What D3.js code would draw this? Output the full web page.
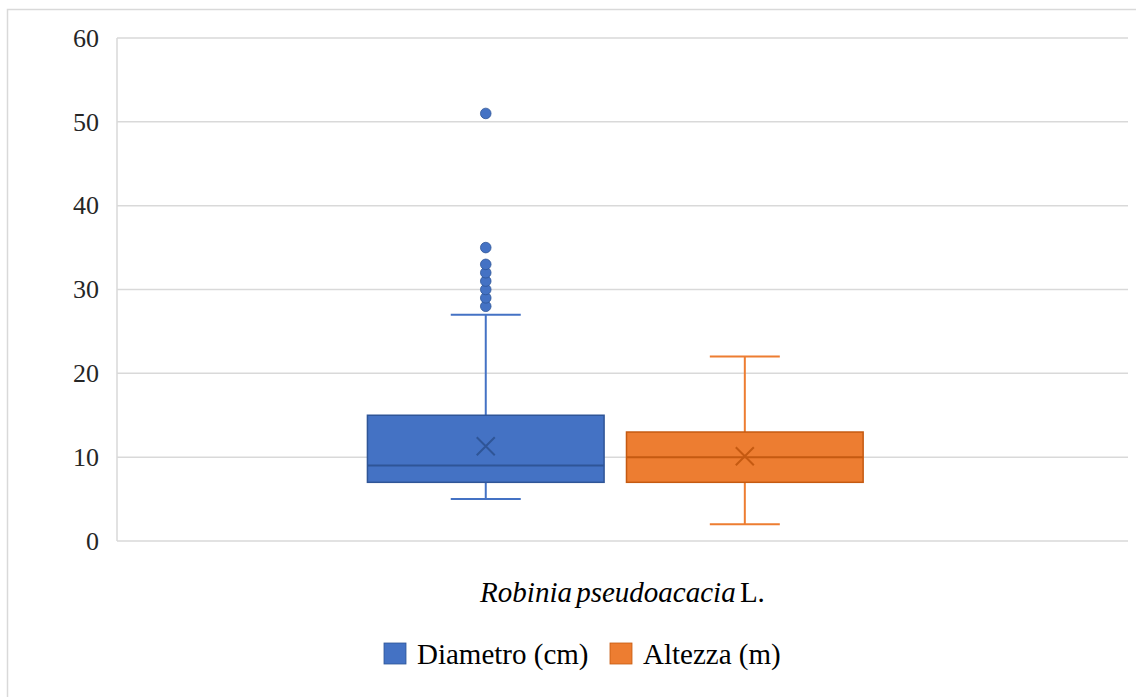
<!DOCTYPE html>
<html>
<head>
<meta charset="utf-8">
<script src="https://cdn.jsdelivr.net/npm/d3@7"></script>
<style>
  body { margin: 0; background: #fff; }
  svg { display: block; font-family: "Liberation Serif", "Times New Roman", serif; }
</style>
</head>
<body>
<div id="chart"></div>
<script>
// data
const categories = ["Robinia pseudoacacia L."];
const seriesNames = ["Diametro (cm)", "Altezza (m)"];
const seriesColors = ["#4472C4", "#ED7D31"];
const seriesStrokes = ["#2F5597", "#C55A11"];
const whiskerLow = [5, 2];
const q1 = [7, 7];
const median = [9, 10];
const q3 = [15, 13];
const whiskerHigh = [27, 22];
const means = [11.3, 10.1];
const outliers = [[28, 29, 30, 31, 32, 33, 35, 51], []];
const yTicks = [0, 10, 20, 30, 40, 50, 60];

const width = 1136, height = 697;
const margin = { top: 38, right: 8, bottom: 156, left: 117 };
const w = 1128 - margin.left, h = 541 - margin.top;

const svg = d3.select("#chart").append("svg")
    .attr("width", width)
    .attr("height", height);

// outer chart border
svg.append("rect")
    .attr("x", 7.5).attr("y", 9.5)
    .attr("width", width).attr("height", height)
    .attr("fill", "none")
    .attr("stroke", "#d9d9d9")
    .attr("stroke-width", 1.5);

const g = svg.append("g")
    .attr("transform", `translate(${margin.left}, ${margin.top})`);

let y = d3.scaleLinear().domain([0, 60]).range([h, 0]);

let x0 = d3.scaleBand().domain(categories).range([0, w])
    .paddingInner(0.342).paddingOuter(0.342).align(0.486);
let x1 = d3.scaleBand().domain(seriesNames).range([0, x0.bandwidth()])
    .paddingInner(0.0865);

// gridlines
g.append("g")
    .selectAll("line")
    .data(yTicks)
    .join("line")
    .attr("x1", 0).attr("x2", w)
    .attr("y1", d => y(d)).attr("y2", d => y(d))
    .attr("stroke", "#d9d9d9")
    .attr("stroke-width", 1.5);

// vertical axis line
g.append("line")
    .attr("x1", 0).attr("x2", 0)
    .attr("y1", 0).attr("y2", h)
    .attr("stroke", "#d9d9d9")
    .attr("stroke-width", 1.5);

// y axis labels
let yAxis = d3.axisLeft(y).tickValues(yTicks).tickSize(0).tickPadding(18);
let ya = g.append("g").call(yAxis);
ya.select(".domain").remove();
ya.selectAll("text")
    .attr("font-family", "Liberation Serif, Times New Roman, serif")
    .attr("font-size", 26)
    .attr("fill", "#262626");

// boxes
seriesNames.forEach(function (s, i) {
    let cx = x0(categories[0]) + x1(s);
    let bw = x1.bandwidth();
    let mid = cx + bw / 2;
    let cap = 70;
    let grp = g.append("g");

    // whiskers
    grp.append("line")
        .attr("x1", mid).attr("x2", mid)
        .attr("y1", y(whiskerHigh[i])).attr("y2", y(q3[i]))
        .attr("stroke", seriesColors[i]).attr("stroke-width", 2);
    grp.append("line")
        .attr("x1", mid).attr("x2", mid)
        .attr("y1", y(q1[i])).attr("y2", y(whiskerLow[i]))
        .attr("stroke", seriesColors[i]).attr("stroke-width", 2);
    grp.selectAll("line.cap")
        .data([whiskerHigh[i], whiskerLow[i]])
        .join("line")
        .attr("class", "cap")
        .attr("x1", mid - cap / 2).attr("x2", mid + cap / 2)
        .attr("y1", d => y(d)).attr("y2", d => y(d))
        .attr("stroke", seriesColors[i]).attr("stroke-width", 2);

    // box
    grp.append("rect")
        .attr("x", cx).attr("width", bw)
        .attr("y", y(q3[i])).attr("height", y(q1[i]) - y(q3[i]))
        .attr("fill", seriesColors[i])
        .attr("stroke", seriesStrokes[i])
        .attr("stroke-width", 1.5);

    // median
    grp.append("line")
        .attr("x1", cx).attr("x2", cx + bw)
        .attr("y1", y(median[i])).attr("y2", y(median[i]))
        .attr("stroke", seriesStrokes[i]).attr("stroke-width", 2);

    // mean marker
    let my = y(means[i]), r = 9;
    grp.append("path")
        .attr("d", `M${mid - r},${my - r}L${mid + r},${my + r}M${mid - r},${my + r}L${mid + r},${my - r}`)
        .attr("stroke", seriesStrokes[i]).attr("stroke-width", 2)
        .attr("fill", "none");

    // outliers
    grp.selectAll("circle")
        .data(outliers[i])
        .join("circle")
        .attr("cx", mid)
        .attr("cy", d => y(d))
        .attr("r", 5.3)
        .attr("fill", seriesColors[i])
        .attr("stroke", seriesStrokes[i])
        .attr("stroke-width", 0.8);
});

// category label, centred on the whole category slot
let cat = svg.append("text")
    .attr("x", margin.left + w / 2)
    .attr("y", 602)
    .attr("text-anchor", "middle")
    .attr("font-size", 29)
    .attr("word-spacing", -3)
    .attr("fill", "#000");
let parts = categories[0].split(" ");
cat.append("tspan").attr("font-style", "italic").text(parts[0] + " " + parts[1]);
cat.append("tspan").text(" " + parts[2]);

// legend
let legendX = [384, 610];
let legend = svg.append("g");
seriesNames.forEach(function (s, i) {
    legend.append("rect")
        .attr("x", legendX[i]).attr("y", 643)
        .attr("width", 22).attr("height", 21)
        .attr("fill", seriesColors[i])
        .attr("stroke", seriesStrokes[i])
        .attr("stroke-width", 0.8);
    legend.append("text")
        .attr("x", legendX[i] + 33)
        .attr("y", 664)
        .attr("font-size", 29)
        .attr("fill", "#000")
        .text(s);
});
</script>
</body>
</html>
